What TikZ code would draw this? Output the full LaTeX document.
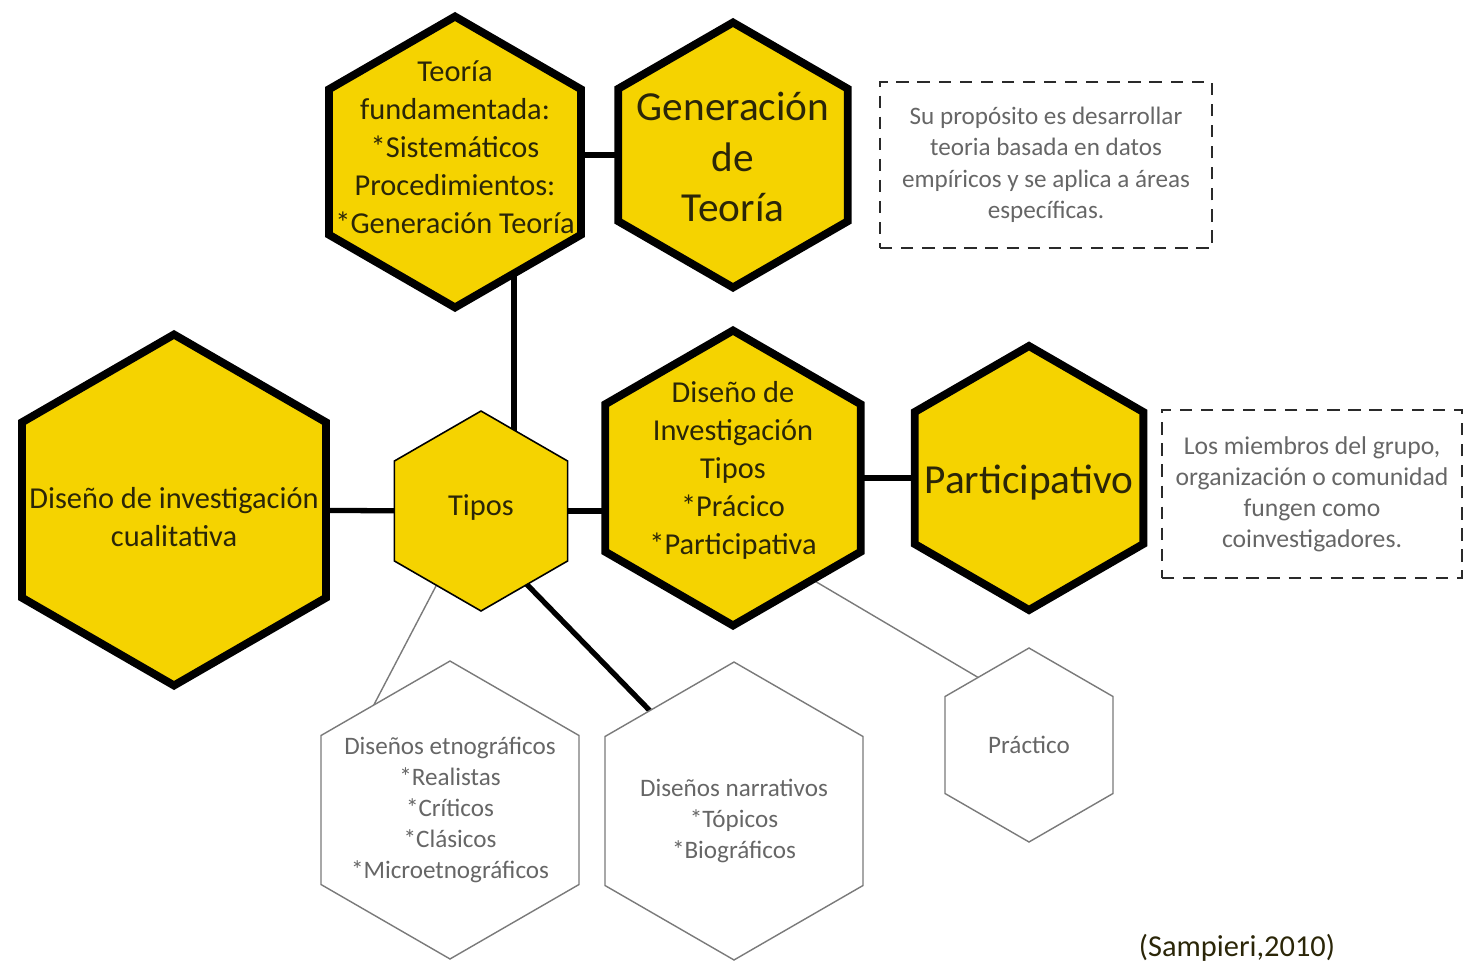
\documentclass[tikz,border=0pt]{standalone}
\usepackage{fontspec}
\setmainfont{Carlito}
\usepackage{xcolor}
\definecolor{cHex}{HTML}{F5D300}
\definecolor{cInk}{HTML}{2B2608}
\definecolor{cGray}{HTML}{666666}
\definecolor{cLine}{HTML}{7A7A7A}
\definecolor{cDash}{HTML}{2A2A2A}
\usepackage{tikz}
\usetikzlibrary{shapes.geometric,calc,backgrounds}
\tikzset{
  hex/.style={regular polygon,regular polygon sides=6,regular polygon rotate=30,
    inner sep=0pt,outer sep=0pt},
  hex-main/.style={hex,draw=black,line width=4.5pt,fill=cHex,line join=miter},
  hex-small/.style={hex,draw=black,line width=0.9pt,fill=cHex},
  hex-white/.style={hex,draw=cLine,line width=0.8pt,fill=white},
  txt-main/.style={align=center,text=cInk,font=\fontsize{17.3}{21.6}\selectfont},
  txt-big/.style={align=center,text=cInk,font=\fontsize{23.5}{28.5}\selectfont},
  txt-sub/.style={align=center,text=cGray,font=\fontsize{14.3}{17.6}\selectfont},
  box-note/.style={draw=cDash,line width=1.6pt,dash pattern=on 7pt off 5pt,
    align=center,text=cGray,font=\fontsize{14.3}{17.9}\selectfont},
  link-main/.style={draw=black,line width=3pt},
  link-thin/.style={draw=cLine,line width=0.8pt},
}

\begin{document}
\begin{tikzpicture}[x=0.02cm,y=-0.02cm]
  \useasboundingbox (0,0) rectangle (1473,963);

  % hexagonos principales
  \node[hex-main,minimum size=5.82cm,
    label={[txt-main,yshift=0.3cm]center:Teoría\\fundamentada:\\*Sistemáticos\\Procedimientos:\\*Generación Teoría}]
    (tf) at (455,162) {};
  \node[hex-main,minimum size=5.3cm,
    label={[txt-big,yshift=-0.04cm]center:Generación\\de\\Teoría}] (gt) at (733,155) {};
  \node[hex-main,minimum size=7.02cm,
    label={[txt-main,yshift=-0.14cm]center:Diseño de investigación\\cualitativa}] (dic) at (174,510) {};
  \node[hex-small,minimum size=4cm,
    label={[txt-main,yshift=0.08cm]center:Tipos}] (tipos) at (481,511) {};
  \node[hex-main,minimum size=5.9cm,
    label={[txt-main,yshift=0.16cm]center:Diseño de\\Investigación\\Tipos\\*Prácico\\*Participativa}]
    (di) at (733,478) {};
  \node[hex-main,minimum size=5.28cm,
    label={[txt-big,yshift=-0.1cm]center:Participativo}] (par) at (1029,478) {};

  % hexagonos blancos
  \node[hex-white,minimum size=5.96cm,
    label={[txt-sub]center:Diseños etnográficos\\*Realistas\\*Críticos\\*Clásicos\\*Microetnográficos}]
    (et) at (450,810) {};
  \node[hex-white,minimum size=5.96cm,
    label={[txt-sub,yshift=-0.2cm]center:Diseños narrativos\\*Tópicos\\*Biográficos}] (na) at (734,811) {};
  \node[hex-white,minimum size=3.88cm,
    label={[txt-sub]center:Práctico}] (pr) at (1029,745) {};

  % notas
  \node[box-note,minimum width=6.64cm,minimum height=3.32cm] (nota-gt) at (1046,165)
    {Su propósito es desarrollar\\teoria basada en datos\\empíricos y se aplica a áreas\\específicas.};
  \node[box-note,minimum width=6cm,minimum height=3.36cm,font=\fontsize{14.6}{17.6}\selectfont]
    (nota-par) at (1312,494)
    {Los miembros del grupo,\\organización o comunidad\\fungen como\\coinvestigadores.};
  \node[font=\fontsize{17.3}{20}\selectfont,text=cInk] (cita) at (1237,948) {(Sampieri,2010)};

  \begin{scope}[on background layer]
    \draw[link-main] (gt.west) -- (gt.west -| tf.east);
    \draw[link-main] ($(tf.center)+(59,0)$) -- ($(tipos.center)+(33,0)$);
    \draw[link-main] (dic) -- (tipos);
    \draw[link-main] (tipos.east) -- (tipos.east -| di.west);
    \draw[link-main] (di) -- (par);
    \draw[link-main] (tipos.-58) -- (na.130);
    \draw[link-thin] (tipos.-121) -- (et.126);
    \draw[link-thin] (di.-52) -- (pr.127);
  \end{scope}
\end{tikzpicture}
\end{document}
